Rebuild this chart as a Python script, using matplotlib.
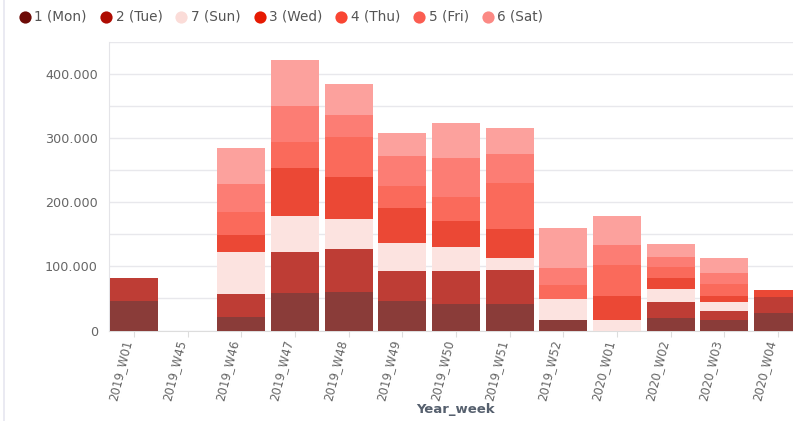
import matplotlib
matplotlib.use("Agg")
import matplotlib.pyplot as plt
import numpy as np
from matplotlib.colors import to_rgb
from matplotlib.lines import Line2D
from matplotlib.transforms import ScaledTranslation
from matplotlib.ticker import FuncFormatter, MultipleLocator

weeks = ["2019_W01", "2019_W45", "2019_W46", "2019_W47", "2019_W48", "2019_W49",
         "2019_W50", "2019_W51", "2019_W52", "2020_W01", "2020_W02", "2020_W03",
         "2020_W04"]

day_labels = ["1 (Mon)", "2 (Tue)", "7 (Sun)", "3 (Wed)", "4 (Thu)", "5 (Fri)", "6 (Sat)"]

mon = [46000, 0, 21500, 58000, 60400, 46000, 41300, 40800, 16000, 0, 19900, 16400, 27300]
tue = [36200, 0, 35000, 64000, 66600, 46700, 51400, 53400, 0, 0, 24000, 14400, 24900]
sun = [0, 0, 66000, 56500, 46200, 43100, 37800, 18300, 33200, 16400, 20700, 13100, 0]
wed = [0, 0, 27000, 75000, 65400, 55500, 40100, 45100, 0, 37400, 17600, 9800, 10900]
thu = [0, 0, 35000, 40500, 63300, 33800, 37800, 71700, 21800, 48300, 17200, 18700, 0]
fri = [0, 0, 44000, 56000, 33800, 47200, 60800, 45200, 26000, 31200, 15600, 16700, 0]
sat = [0, 0, 55000, 71000, 47800, 34900, 53500, 40500, 62300, 45400, 19700, 23400, 0]

series = [mon, tue, sun, wed, thu, fri, sat]
colors = ["#6d0b07", "#ae0c02", "#fbdcd8", "#e61a02", "#f94532", "#fb5d51", "#fb8984"]


def faded(c, alpha=0.8):
    """Opaque colour of `c` drawn at `alpha` over white."""
    r, g, b = to_rgb(c)
    return (alpha * r + 1 - alpha, alpha * g + 1 - alpha, alpha * b + 1 - alpha)


fig = plt.figure(figsize=(7.93, 4.21), dpi=100)
W, H = 793, 421
left_px, right_px, top_px, bottom_px = 109, 803, 41.6, 330.5
ax = fig.add_axes([left_px / W, 1 - bottom_px / H,
                   (right_px - left_px) / W, (bottom_px - top_px) / H])

x = np.arange(len(weeks))
bottom = np.zeros(len(weeks))
for vals, col in zip(series, colors):
    v = np.array(vals, dtype=float)
    ax.bar(x, v, bottom=bottom, width=0.894, color=faded(col),
           linewidth=0, zorder=3)
    bottom += v

ax.set_xlim(-0.466, len(weeks) - 1 + 0.466)
ax.set_ylim(0, 450000)
ax.yaxis.set_major_locator(MultipleLocator(100000))
ax.yaxis.set_minor_locator(MultipleLocator(50000))
ax.yaxis.set_major_formatter(FuncFormatter(
    lambda v, p: "0" if v == 0 else f"{int(v):,}".replace(",", ".")))
ax.grid(axis="y", which="both", color="#e8e8ec", linewidth=1.0, zorder=0)
ax.tick_params(axis="y", which="both", length=0, pad=8, labelsize=9.2,
               labelcolor="#666666")
ax.tick_params(axis="x", length=4, width=0.8, color="#dddddd", pad=3,
               labelsize=8.5, labelcolor="#666666")

ax.set_xticks(x)
ax.set_xticklabels(weeks, rotation=76, ha="right", va="center",
                   rotation_mode="anchor")
offset = ScaledTranslation(-6 / 100, 0, fig.dpi_scale_trans)
for lab in ax.get_xticklabels():
    lab.set_transform(lab.get_transform() + offset)

for side in ["top", "right"]:
    ax.spines[side].set_visible(False)
ax.spines["left"].set_color("#e4e4e8")
ax.spines["bottom"].set_color("#dddddd")

fig.text((left_px + right_px) / 2 / W, 1 - 409 / H, "Year_week", fontsize=9.5,
         fontweight="bold", color="#56606e", ha="center", va="center")

# legend row along the top, laid out from the rendered text widths
renderer = fig.canvas.get_renderer()
cx = 25.0
ly = 1 - 16.5 / H
for lab, col in zip(day_labels, colors):
    fig.add_artist(Line2D([cx / W], [ly], marker="o", markersize=8.8,
                          color=col, markeredgewidth=0, linestyle="none"))
    t = fig.text((cx + 9.5) / W, ly, lab, fontsize=9.8, color="#555555",
                 ha="left", va="center")
    w = t.get_window_extent(renderer=renderer).width
    cx = cx + 9.5 + w + 19

# faint panel border on the left
fig.add_artist(Line2D([4 / W, 4 / W], [0, 1], color="#e6e6f0", linewidth=1.2))

fig.savefig("out.png", dpi=100)
